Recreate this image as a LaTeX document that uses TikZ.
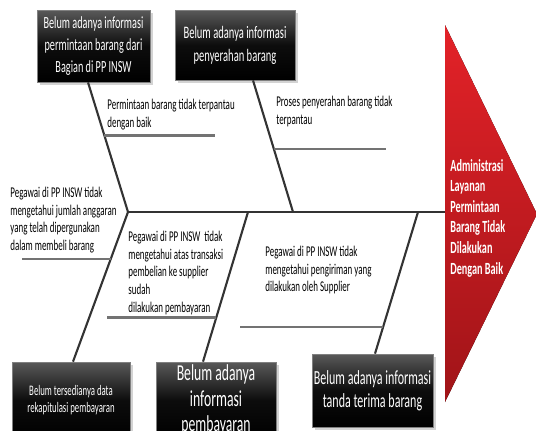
\documentclass[tikz,border=0pt]{standalone}
\usepackage{fontspec}
\setmainfont{Carlito}[FakeStretch=0.6]
\usetikzlibrary{calc,shadows}
\definecolor{headtop}{HTML}{E32228}
\definecolor{headbot}{HTML}{A01418}
\tikzset{
    causebox/.style = {draw=black!50, rectangle, 
        top color=black!65, bottom color=black, middle color=black!95,
        text=white, align=center, inner sep=1pt,
        drop shadow={opacity=0.35,shadow xshift=1.5pt,shadow yshift=-1.5pt}},
    note/.style = {anchor=north west, align=left, inner sep=0pt,
        font=\fontsize{8.5}{10}\selectfont},
    bone/.style = {draw=black!80, line width=1.2pt},
    spine/.style = {draw=black!80, line width=1.6pt},
    twig/.style = {draw=black!55, line width=1.2pt}
}

\begin{document}
\begin{tikzpicture}[x=0.02cm, y=-0.02cm]
                \useasboundingbox (0,0) rectangle (536,430);
                \clip (0,0) rectangle (536,430);
                % head of the fish
                \fill[top color=headtop, bottom color=headbot] (445,25) -- (537,214) -- (445,402) -- cycle;
                \node[anchor=north west, align=left, inner sep=0pt, text=white,
                    font=\bfseries\fontsize{9.7}{11.7}\selectfont] (effect) at (450,159)
                    {Administrasi\\Layanan\\Permintaan\\Barang Tidak\\Dilakukan\\Dengan Baik};
                \coordinate (j1) at (128,212);
                \coordinate (j2) at (293,212);
                \coordinate (j4) at (248,212);
                \coordinate (j5) at (418,212);
                \coordinate (hd) at (445,212);
                % causes
                \node[causebox, minimum width=2.26cm, minimum height=1.44cm,
                    font=\fontsize{9.7}{12.7}\selectfont] (c1) at (93.5,46)
                    {Belum adanya informasi\\permintaan barang dari\\Bagian di PP INSW};
                \node[causebox, minimum width=2.4cm, minimum height=1.4cm,
                    font=\fontsize{10}{13}\selectfont] (c2) at (235,45)
                    {Belum adanya informasi\\penyerahan barang};
                \node[causebox, minimum width=2.36cm, minimum height=1.52cm,
                    font=\fontsize{8.3}{10}\selectfont] (c3) at (71,400)
                    {Belum tersedianya data\\rekapitulasi pembayaran};
                \node[causebox, minimum width=2.4cm, minimum height=1.52cm,
                    font=\fontsize{13}{14.7}\selectfont] (c4) at (216,400)
                    {Belum adanya\\informasi\\pembayaran};
                \node[causebox, minimum width=2.42cm, minimum height=1.46cm,
                    font=\fontsize{11.4}{13}\selectfont] (c5) at (372.5,390.5)
                    {Belum adanya informasi\\tanda terima barang};
                % bones
                \draw[bone] ($(c1.south)+(-5.5,0)$) -- coordinate[pos=0.41] (k1) (j1);
                \draw[bone] ($(c2.south)+(18,0)$) -- coordinate[pos=0.52] (k2) (j2);
                \draw[bone] ($(c3.north)+(2,0)$) -- coordinate[pos=0.685] (k3) (j1);
                \draw[bone] ($(c4.north)+(-13,0)$) -- coordinate[pos=0.295] (k4) (j4);
                \draw[bone] ($(c5.north)+(2.5,0)$) -- coordinate[pos=0.19] (k5) (j5);
                \draw[spine] (j1) -- (hd);
                % sub causes
                \coordinate (e1) at (215,0);
                \coordinate (e2) at (386,0);
                \coordinate (e3) at (22,0);
                \coordinate (e4) at (107,0);
                \coordinate (e5) at (240,0);
                \draw[twig] (k1) -- (k1 -| e1);
                \draw[twig] (k2) -- (k2 -| e2);
                \draw[twig] (k3) -- (k3 -| e3);
                \draw[twig] (k4) -- (k4 -| e4);
                \draw[twig] (k5) -- (k5 -| e5);
                \node[note] (n1) at (107,99) {Permintaan barang tidak terpantau\\dengan baik};
                \node[note] (n2) at (276,96) {Proses penyerahan barang tidak\\terpantau};
                \node[note] (n3) at (10,187) {Pegawai di PP INSW tidak\\mengetahui jumlah anggaran\\yang telah dipergunakan\\dalam membeli barang};
                \node[note] (n4) at (128,231) {Pegawai di PP INSW\ \ tidak\\mengetahui atas transaksi\\pembelian ke supplier\\sudah\\dilakukan pembayaran};
                \node[note] (n5) at (265,246) {Pegawai di PP INSW tidak\\mengetahui pengiriman yang\\dilakukan oleh Supplier};
            \end{tikzpicture}
\end{document}
